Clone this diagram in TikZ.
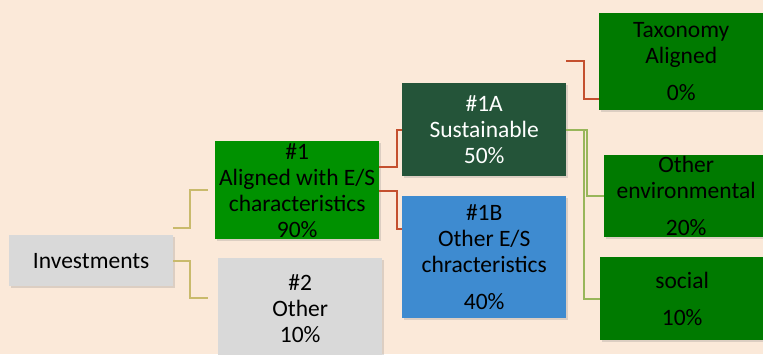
\documentclass[tikz,border=0pt]{standalone}
\usepackage{fontspec}
\setmainfont{Carlito}
\usetikzlibrary{positioning, shadows}
\definecolor{bgpeach}{HTML}{FBE9D9}
\definecolor{boxgray}{HTML}{D9D9D9}
\definecolor{brightgreen}{HTML}{009100}
\definecolor{leafgreen}{HTML}{007A00}
\definecolor{darkgreen}{HTML}{245439}
\definecolor{midblue}{HTML}{3E8BD0}
\definecolor{linered}{HTML}{C4502F}
\definecolor{lineyellow}{HTML}{C9BA6C}
\definecolor{linegreen}{HTML}{98B65A}
\newcommand{\boxwidth}{164pt}
\newcommand{\stdfont}{\fontsize{23.5}{26}\selectfont}
\newcommand{\stdgap}{\\[11pt]}

\begin{document}
\begin{tikzpicture}[x=1pt, y=-1pt,
    block/.style={anchor=north west, minimum width=\boxwidth, inner sep=0pt,
        align=center, font=\stdfont, text=black,
        drop shadow={shadow xshift=2pt, shadow yshift=-2pt, opacity=0.25}},
    link/.style={line width=2pt}]
    \fill[bgpeach] (0,0) rectangle (763,354);
    \useasboundingbox (0,0) rectangle (763,354);

    \node[block, fill=boxgray, minimum height=51pt] (inv) at (9,235) {Investments};
    \node[block, fill=brightgreen, minimum height=98pt] (one) at (215,141)
        {\#1\\Aligned with E/S\\characteristics\\90\%};
    \node[block, fill=boxgray, minimum height=100pt] (two) at (218,258)
        {\#2\\Other\\10\%};
    \node[block, fill=darkgreen, text=white, minimum height=93pt] (oneA) at (402,83)
        {\#1A\\Sustainable\\50\%};
    \node[block, fill=midblue, minimum height=122pt] (oneB) at (402,196)
        {\#1B\\Other E/S\\chracteristics\stdgap 40\%};
    \node[block, fill=leafgreen, minimum height=97pt] (tax) at (599,13)
        {Taxonomy\\Aligned\stdgap 0\%};
    \node[block, fill=leafgreen, minimum height=82pt] (env) at (604,155)
        {Other\\environmental\stdgap 20\%};
    \node[block, fill=leafgreen, minimum height=83pt] (soc) at (600,257)
        {social\stdgap 10\%};

    \draw[link, lineyellow] ([yshift=32.5pt]inv.east) -- ++(17,0) |- ([xshift=-7pt]one.west);
    \draw[link, lineyellow] (inv.east) -- ++(17,0) |- ([xshift=-10pt, yshift=10pt]two.west);

    \draw[link, linered] ([yshift=23pt]one.east) -- ++(18,0) |- (oneA.west);
    \draw[link, linered] ([yshift=-1pt]one.east) -- ++(18,0) |- ([yshift=28pt]oneB.west);
    \draw[link, linered] ([yshift=68.5pt]oneA.east) -- ++(18,0) |- ([yshift=-37.5pt]tax.west);

    \draw[link, linegreen] (oneA.east) -- ++(21,0) |- (env.west);
    \draw[link, linegreen] (oneA.east) -- ++(18,0) |- (soc.west);
\end{tikzpicture}
\end{document}
